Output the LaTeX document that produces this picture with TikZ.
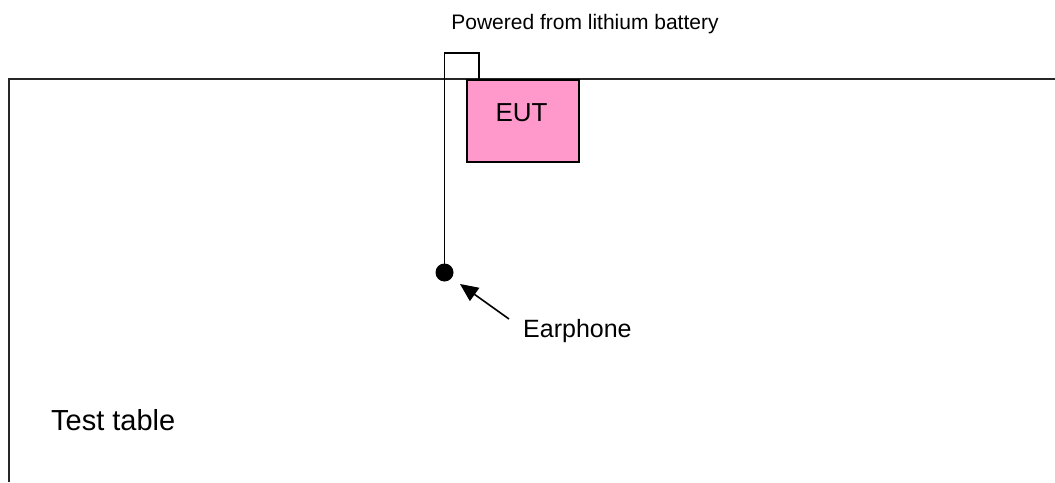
\documentclass[tikz,border=0pt]{standalone}
\usepackage{fontspec}
\setmainfont{Liberation Sans}
\usetikzlibrary{arrows.meta}
\begin{document}
\begin{tikzpicture}[x=1pt,y=-1pt,
  frame/.style={line width=2pt, black!85},
  wire/.style={line width=1.5pt},
  lbl/.style={inner sep=0pt, anchor=west}]
\useasboundingbox (0,0) rectangle (1055,482);
% test table edges
\coordinate (tl) at (8.5,79);
\draw[frame] (8.5,482) -- (tl) -- (1055,79);
% EUT
\node[draw, line width=1.5pt, fill={rgb,255:red,255;green,153;blue,204}, minimum width=112pt, minimum height=82pt, anchor=north west, inner sep=0pt] (eut) at (466,79) {};
\node[inner sep=0pt, font=\fontsize{26}{30}\selectfont] (euttxt) at (521.5,113) {EUT};
% earphone and cable
\node[circle, fill=black, inner sep=0pt, minimum size=18pt] (dot) at (444.5,272.5) {};
\coordinate (c1) at (444.5,53);
\coordinate (c2) at (479,53);
\coordinate (c3) at (479,79);
\draw[wire] (dot.center) -- (c1) -- (c2) -- (c3);
% labels
\node[font=\fontsize{21}{25}\selectfont, inner sep=0pt] (pow) at (585,24) {Powered from lithium battery};
\node[lbl, font=\fontsize{25}{30}\selectfont] (ear) at (523,331) {Earphone};
\node[lbl, font=\fontsize{29}{34}\selectfont] (tt) at (51,420) {Test table};
% arrow
\coordinate (at) at (509,319);
\coordinate (ah) at (460,284);
\draw[line width=1.6pt, -{Triangle[length=18pt,width=16pt]}] (at) -- (ah);
\end{tikzpicture}
\end{document}
